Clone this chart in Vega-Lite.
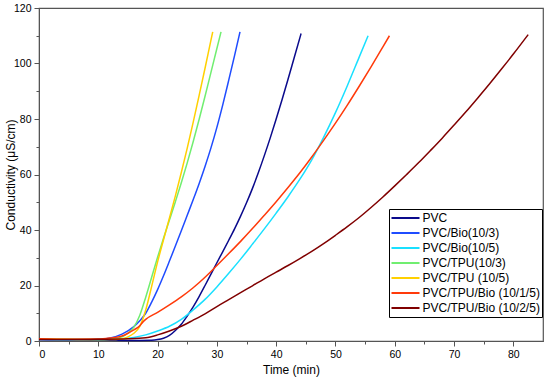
{
  "$schema": "https://vega.github.io/schema/vega-lite/v6.json",
  "autosize": {"type": "none"},
  "padding": {"left": 39, "top": 8, "right": 7, "bottom": 41},
  "width": 504,
  "height": 333,
  "background": "white",
  "config": {
    "font": "Liberation Sans",
    "view": {"stroke": "#555", "strokeWidth": 1.2},
    "axis": {"grid": false, "domainColor": "#555", "tickColor": "#555", "labelColor": "#000", "labelFontSize": 10.5, "titleFontSize": 12, "titleFontWeight": "normal", "titleColor": "#000", "labelFont": "Liberation Sans", "titleFont": "Liberation Sans"}
  },
  "data": {"values": [
    {"s": "PVC", "t": 0, "v": 0.5}, {"s": "PVC", "t": 5, "v": 0.4}, {"s": "PVC", "t": 10, "v": 0.3}, {"s": "PVC", "t": 15, "v": 0.2}, {"s": "PVC", "t": 19, "v": 0.3}, {"s": "PVC", "t": 20, "v": 0.5}, {"s": "PVC", "t": 21, "v": 1}, {"s": "PVC", "t": 22, "v": 2}, {"s": "PVC", "t": 23, "v": 3.8}, {"s": "PVC", "t": 24, "v": 6}, {"s": "PVC", "t": 25, "v": 9}, {"s": "PVC", "t": 26, "v": 12.3}, {"s": "PVC", "t": 27, "v": 16}, {"s": "PVC", "t": 28, "v": 20}, {"s": "PVC", "t": 29, "v": 24.1}, {"s": "PVC", "t": 30, "v": 28.2}, {"s": "PVC", "t": 31, "v": 32.2}, {"s": "PVC", "t": 32, "v": 36.3}, {"s": "PVC", "t": 33, "v": 40.5}, {"s": "PVC", "t": 34, "v": 45}, {"s": "PVC", "t": 35, "v": 49.8}, {"s": "PVC", "t": 36, "v": 55}, {"s": "PVC", "t": 37, "v": 60.7}, {"s": "PVC", "t": 38, "v": 66.8}, {"s": "PVC", "t": 39, "v": 73.2}, {"s": "PVC", "t": 40, "v": 80}, {"s": "PVC", "t": 41, "v": 87}, {"s": "PVC", "t": 42, "v": 94.3}, {"s": "PVC", "t": 43, "v": 101.8}, {"s": "PVC", "t": 44.2, "v": 110.8},

    {"s": "PVC/Bio(10/3)", "t": 0, "v": 0.5}, {"s": "PVC/Bio(10/3)", "t": 5, "v": 0.4}, {"s": "PVC/Bio(10/3)", "t": 10, "v": 0.6}, {"s": "PVC/Bio(10/3)", "t": 12, "v": 1.1}, {"s": "PVC/Bio(10/3)", "t": 14, "v": 2.5}, {"s": "PVC/Bio(10/3)", "t": 16, "v": 5.2}, {"s": "PVC/Bio(10/3)", "t": 17, "v": 7.3}, {"s": "PVC/Bio(10/3)", "t": 18, "v": 10}, {"s": "PVC/Bio(10/3)", "t": 19, "v": 14}, {"s": "PVC/Bio(10/3)", "t": 20, "v": 18.5}, {"s": "PVC/Bio(10/3)", "t": 21, "v": 23.5}, {"s": "PVC/Bio(10/3)", "t": 22, "v": 28.8}, {"s": "PVC/Bio(10/3)", "t": 23, "v": 34.2}, {"s": "PVC/Bio(10/3)", "t": 24, "v": 39.7}, {"s": "PVC/Bio(10/3)", "t": 25, "v": 45.3}, {"s": "PVC/Bio(10/3)", "t": 26, "v": 50.9}, {"s": "PVC/Bio(10/3)", "t": 27, "v": 56.7}, {"s": "PVC/Bio(10/3)", "t": 28, "v": 62.9}, {"s": "PVC/Bio(10/3)", "t": 29, "v": 69.6}, {"s": "PVC/Bio(10/3)", "t": 30, "v": 77}, {"s": "PVC/Bio(10/3)", "t": 31, "v": 85.2}, {"s": "PVC/Bio(10/3)", "t": 32, "v": 94}, {"s": "PVC/Bio(10/3)", "t": 33, "v": 103}, {"s": "PVC/Bio(10/3)", "t": 33.9, "v": 111.4},

    {"s": "PVC/Bio(10/5)", "t": 0, "v": 0.5}, {"s": "PVC/Bio(10/5)", "t": 5, "v": 0.5}, {"s": "PVC/Bio(10/5)", "t": 10, "v": 0.5}, {"s": "PVC/Bio(10/5)", "t": 14, "v": 0.8}, {"s": "PVC/Bio(10/5)", "t": 16, "v": 1.3}, {"s": "PVC/Bio(10/5)", "t": 18, "v": 2.2}, {"s": "PVC/Bio(10/5)", "t": 20, "v": 3.6}, {"s": "PVC/Bio(10/5)", "t": 22, "v": 5.3}, {"s": "PVC/Bio(10/5)", "t": 24, "v": 7.8}, {"s": "PVC/Bio(10/5)", "t": 26, "v": 11.2}, {"s": "PVC/Bio(10/5)", "t": 28, "v": 15}, {"s": "PVC/Bio(10/5)", "t": 30, "v": 19.5}, {"s": "PVC/Bio(10/5)", "t": 32, "v": 24.4}, {"s": "PVC/Bio(10/5)", "t": 34, "v": 29.5}, {"s": "PVC/Bio(10/5)", "t": 36, "v": 34.9}, {"s": "PVC/Bio(10/5)", "t": 38, "v": 40.4}, {"s": "PVC/Bio(10/5)", "t": 40, "v": 46.1}, {"s": "PVC/Bio(10/5)", "t": 42, "v": 52}, {"s": "PVC/Bio(10/5)", "t": 44, "v": 58.3}, {"s": "PVC/Bio(10/5)", "t": 46, "v": 65.3}, {"s": "PVC/Bio(10/5)", "t": 48, "v": 73.4}, {"s": "PVC/Bio(10/5)", "t": 50, "v": 82.3}, {"s": "PVC/Bio(10/5)", "t": 52, "v": 92}, {"s": "PVC/Bio(10/5)", "t": 54, "v": 102.3}, {"s": "PVC/Bio(10/5)", "t": 55.5, "v": 110},

    {"s": "PVC/TPU(10/3)", "t": 0, "v": 0.7}, {"s": "PVC/TPU(10/3)", "t": 5, "v": 0.5}, {"s": "PVC/TPU(10/3)", "t": 10, "v": 0.5}, {"s": "PVC/TPU(10/3)", "t": 12, "v": 0.6}, {"s": "PVC/TPU(10/3)", "t": 13, "v": 0.9}, {"s": "PVC/TPU(10/3)", "t": 14, "v": 1.5}, {"s": "PVC/TPU(10/3)", "t": 15, "v": 2.8}, {"s": "PVC/TPU(10/3)", "t": 16, "v": 5}, {"s": "PVC/TPU(10/3)", "t": 17, "v": 9.3}, {"s": "PVC/TPU(10/3)", "t": 18, "v": 15.8}, {"s": "PVC/TPU(10/3)", "t": 19, "v": 23}, {"s": "PVC/TPU(10/3)", "t": 20, "v": 30.2}, {"s": "PVC/TPU(10/3)", "t": 21, "v": 37}, {"s": "PVC/TPU(10/3)", "t": 22, "v": 43.6}, {"s": "PVC/TPU(10/3)", "t": 23, "v": 50.2}, {"s": "PVC/TPU(10/3)", "t": 24, "v": 57}, {"s": "PVC/TPU(10/3)", "t": 25, "v": 64.2}, {"s": "PVC/TPU(10/3)", "t": 26, "v": 71.8}, {"s": "PVC/TPU(10/3)", "t": 27, "v": 79.8}, {"s": "PVC/TPU(10/3)", "t": 28, "v": 88.2}, {"s": "PVC/TPU(10/3)", "t": 29, "v": 96.8}, {"s": "PVC/TPU(10/3)", "t": 30, "v": 105.4}, {"s": "PVC/TPU(10/3)", "t": 30.7, "v": 111.4},

    {"s": "PVC/TPU (10/5)", "t": 0, "v": 0.8}, {"s": "PVC/TPU (10/5)", "t": 5, "v": 0.6}, {"s": "PVC/TPU (10/5)", "t": 10, "v": 0.5}, {"s": "PVC/TPU (10/5)", "t": 12, "v": 0.5}, {"s": "PVC/TPU (10/5)", "t": 14, "v": 0.8}, {"s": "PVC/TPU (10/5)", "t": 15, "v": 1.5}, {"s": "PVC/TPU (10/5)", "t": 16, "v": 2.8}, {"s": "PVC/TPU (10/5)", "t": 17, "v": 5.3}, {"s": "PVC/TPU (10/5)", "t": 18, "v": 11.2}, {"s": "PVC/TPU (10/5)", "t": 19, "v": 19.7}, {"s": "PVC/TPU (10/5)", "t": 20, "v": 28.5}, {"s": "PVC/TPU (10/5)", "t": 21, "v": 36.5}, {"s": "PVC/TPU (10/5)", "t": 22, "v": 44.3}, {"s": "PVC/TPU (10/5)", "t": 23, "v": 52.3}, {"s": "PVC/TPU (10/5)", "t": 24, "v": 60.7}, {"s": "PVC/TPU (10/5)", "t": 25, "v": 69.5}, {"s": "PVC/TPU (10/5)", "t": 26, "v": 78.8}, {"s": "PVC/TPU (10/5)", "t": 27, "v": 88.4}, {"s": "PVC/TPU (10/5)", "t": 28, "v": 98.3}, {"s": "PVC/TPU (10/5)", "t": 29, "v": 108.4}, {"s": "PVC/TPU (10/5)", "t": 29.3, "v": 111.4},

    {"s": "PVC/TPU/Bio (10/1/5)", "t": 0, "v": 0.8}, {"s": "PVC/TPU/Bio (10/1/5)", "t": 5, "v": 0.6}, {"s": "PVC/TPU/Bio (10/1/5)", "t": 10, "v": 0.7}, {"s": "PVC/TPU/Bio (10/1/5)", "t": 12, "v": 1.1}, {"s": "PVC/TPU/Bio (10/1/5)", "t": 14, "v": 1.8}, {"s": "PVC/TPU/Bio (10/1/5)", "t": 15, "v": 2.8}, {"s": "PVC/TPU/Bio (10/1/5)", "t": 16, "v": 4}, {"s": "PVC/TPU/Bio (10/1/5)", "t": 17, "v": 5.5}, {"s": "PVC/TPU/Bio (10/1/5)", "t": 17.5, "v": 6.8}, {"s": "PVC/TPU/Bio (10/1/5)", "t": 18, "v": 7.8}, {"s": "PVC/TPU/Bio (10/1/5)", "t": 20, "v": 10.3}, {"s": "PVC/TPU/Bio (10/1/5)", "t": 22, "v": 13}, {"s": "PVC/TPU/Bio (10/1/5)", "t": 24, "v": 15.9}, {"s": "PVC/TPU/Bio (10/1/5)", "t": 26, "v": 19.2}, {"s": "PVC/TPU/Bio (10/1/5)", "t": 28, "v": 23}, {"s": "PVC/TPU/Bio (10/1/5)", "t": 30, "v": 27.2}, {"s": "PVC/TPU/Bio (10/1/5)", "t": 32, "v": 31.5}, {"s": "PVC/TPU/Bio (10/1/5)", "t": 34, "v": 35.9}, {"s": "PVC/TPU/Bio (10/1/5)", "t": 36, "v": 40.5}, {"s": "PVC/TPU/Bio (10/1/5)", "t": 38, "v": 45.3}, {"s": "PVC/TPU/Bio (10/1/5)", "t": 40, "v": 50.2}, {"s": "PVC/TPU/Bio (10/1/5)", "t": 42, "v": 55.3}, {"s": "PVC/TPU/Bio (10/1/5)", "t": 44, "v": 60.6}, {"s": "PVC/TPU/Bio (10/1/5)", "t": 46, "v": 66.3}, {"s": "PVC/TPU/Bio (10/1/5)", "t": 48, "v": 72.3}, {"s": "PVC/TPU/Bio (10/1/5)", "t": 50, "v": 78.5}, {"s": "PVC/TPU/Bio (10/1/5)", "t": 52, "v": 85}, {"s": "PVC/TPU/Bio (10/1/5)", "t": 54, "v": 91.8}, {"s": "PVC/TPU/Bio (10/1/5)", "t": 56, "v": 98.8}, {"s": "PVC/TPU/Bio (10/1/5)", "t": 58, "v": 106}, {"s": "PVC/TPU/Bio (10/1/5)", "t": 59.1, "v": 110},

    {"s": "PVC/TPU/Bio (10/2/5)", "t": 0, "v": 0.5}, {"s": "PVC/TPU/Bio (10/2/5)", "t": 5, "v": 0.5}, {"s": "PVC/TPU/Bio (10/2/5)", "t": 10, "v": 0.6}, {"s": "PVC/TPU/Bio (10/2/5)", "t": 15, "v": 0.8}, {"s": "PVC/TPU/Bio (10/2/5)", "t": 18, "v": 1.2}, {"s": "PVC/TPU/Bio (10/2/5)", "t": 20, "v": 2.2}, {"s": "PVC/TPU/Bio (10/2/5)", "t": 22, "v": 3.6}, {"s": "PVC/TPU/Bio (10/2/5)", "t": 24, "v": 5.3}, {"s": "PVC/TPU/Bio (10/2/5)", "t": 26, "v": 7.5}, {"s": "PVC/TPU/Bio (10/2/5)", "t": 28, "v": 9.8}, {"s": "PVC/TPU/Bio (10/2/5)", "t": 30, "v": 12.4}, {"s": "PVC/TPU/Bio (10/2/5)", "t": 32, "v": 14.9}, {"s": "PVC/TPU/Bio (10/2/5)", "t": 34, "v": 17.4}, {"s": "PVC/TPU/Bio (10/2/5)", "t": 36, "v": 19.9}, {"s": "PVC/TPU/Bio (10/2/5)", "t": 38, "v": 22.4}, {"s": "PVC/TPU/Bio (10/2/5)", "t": 40, "v": 24.8}, {"s": "PVC/TPU/Bio (10/2/5)", "t": 42, "v": 27.2}, {"s": "PVC/TPU/Bio (10/2/5)", "t": 44, "v": 29.7}, {"s": "PVC/TPU/Bio (10/2/5)", "t": 46, "v": 32.3}, {"s": "PVC/TPU/Bio (10/2/5)", "t": 48, "v": 35.1}, {"s": "PVC/TPU/Bio (10/2/5)", "t": 50, "v": 38.1}, {"s": "PVC/TPU/Bio (10/2/5)", "t": 52, "v": 41.2}, {"s": "PVC/TPU/Bio (10/2/5)", "t": 54, "v": 44.5}, {"s": "PVC/TPU/Bio (10/2/5)", "t": 56, "v": 48.1}, {"s": "PVC/TPU/Bio (10/2/5)", "t": 58, "v": 51.9}, {"s": "PVC/TPU/Bio (10/2/5)", "t": 60, "v": 55.9}, {"s": "PVC/TPU/Bio (10/2/5)", "t": 62, "v": 60}, {"s": "PVC/TPU/Bio (10/2/5)", "t": 64, "v": 64.2}, {"s": "PVC/TPU/Bio (10/2/5)", "t": 66, "v": 68.6}, {"s": "PVC/TPU/Bio (10/2/5)", "t": 68, "v": 73.1}, {"s": "PVC/TPU/Bio (10/2/5)", "t": 70, "v": 77.8}, {"s": "PVC/TPU/Bio (10/2/5)", "t": 72, "v": 82.6}, {"s": "PVC/TPU/Bio (10/2/5)", "t": 74, "v": 87.6}, {"s": "PVC/TPU/Bio (10/2/5)", "t": 76, "v": 92.7}, {"s": "PVC/TPU/Bio (10/2/5)", "t": 78, "v": 98}, {"s": "PVC/TPU/Bio (10/2/5)", "t": 80, "v": 103.4}, {"s": "PVC/TPU/Bio (10/2/5)", "t": 82.5, "v": 110.4}
  ]},
  "mark": {"type": "line", "strokeWidth": 1.5, "interpolate": "monotone"},
  "encoding": {
    "x": {"field": "t", "type": "quantitative",
      "scale": {"domain": [0, 85], "nice": false, "zero": false},
      "axis": {"title": "Time (min)", "values": [0, 5, 10, 15, 20, 25, 30, 35, 40, 45, 50, 55, 60, 65, 70, 75, 80],
        "labelExpr": "datum.value % 10 === 0 ? datum.label : ''",
        "tickSize": {"condition": {"test": "datum.value % 10 === 0", "value": 5}, "value": 3},
        "labelPadding": 3, "titlePadding": 5}},
    "y": {"field": "v", "type": "quantitative",
      "scale": {"domain": [0, 120], "nice": false},
      "axis": {"title": "Conductivity (μS/cm)", "values": [0, 10, 20, 30, 40, 50, 60, 70, 80, 90, 100, 110, 120],
        "labelExpr": "datum.value % 20 === 0 ? datum.label : ''",
        "tickSize": {"condition": {"test": "datum.value % 20 === 0", "value": 5}, "value": 3},
        "labelPadding": 3, "titleX": -25, "titleBaseline": "alphabetic"}},
    "color": {"field": "s", "type": "nominal",
      "scale": {"domain": ["PVC", "PVC/Bio(10/3)", "PVC/Bio(10/5)", "PVC/TPU(10/3)", "PVC/TPU (10/5)", "PVC/TPU/Bio (10/1/5)", "PVC/TPU/Bio (10/2/5)"],
        "range": ["#0a0a8c", "#1f4cff", "#19e0ff", "#70ee70", "#ffd000", "#ff3a0a", "#800000"]},
      "legend": {"title": null, "orient": "none", "legendX": 350, "legendY": 201,
        "symbolType": "stroke", "symbolSize": 784, "symbolStrokeWidth": 2,
        "clipHeight": 15, "rowPadding": 0, "padding": 1.5, "labelFontSize": 12, "labelOffset": 2,
        "labelColor": "#000", "strokeColor": "#000", "fillColor": "white", "labelLimit": 200}}
  }
}
